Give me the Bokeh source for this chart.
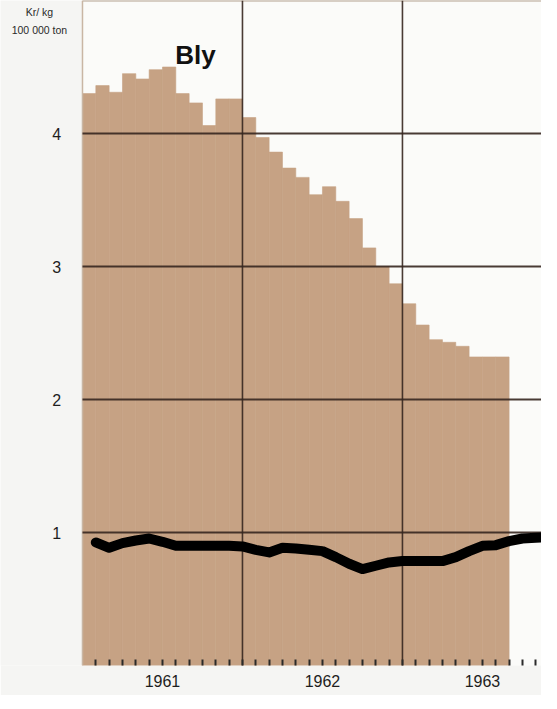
from bokeh.plotting import figure
from bokeh.models import Range1d, FixedTicker
from bokeh.core.properties import value
from bokeh.embed import file_html
from bokeh.resources import INLINE

# ---- data (months counted from Jan 1961 = 0) ----
bar_months = list(range(32))
bar_values = [4.30, 4.36, 4.31, 4.45, 4.41, 4.48, 4.50, 4.30, 4.23, 4.06, 4.26, 4.26,
              4.12, 3.97, 3.86, 3.74, 3.67, 3.54, 3.60, 3.49, 3.36, 3.14, 3.00, 2.87,
              2.72, 2.56, 2.45, 2.43, 2.40, 2.32, 2.32, 2.32]

line_months = list(range(1, 36))
line_values = [0.925, 0.885, 0.92, 0.94, 0.955, 0.93, 0.90, 0.90, 0.90, 0.90, 0.90, 0.895,
               0.87, 0.85, 0.885, 0.88, 0.87, 0.86, 0.815, 0.765, 0.725, 0.75, 0.775, 0.785,
               0.785, 0.785, 0.785, 0.815, 0.86, 0.90, 0.905, 0.935, 0.955, 0.96, 0.965]

year_labels = {6: "1961", 18: "1962", 30: "1963"}
year_bounds = [12, 24]
y_ticks = [1, 2, 3, 4]
y_tick_labels = ["1", "2", "3", "4"]
unit_lines = ["Kr/ kg", "100 000 ton"]
title_text = "Bly"

X0, X1 = -6.15, 34.43   # left gutter (labels) + chart months
Y0, Y1 = 0, 5
TAN = "#c6a284"
GRID = "#35261f"
FONT = value("Liberation Sans")

p = figure(width=541, height=695, output_backend="svg", toolbar_location=None,
           x_range=Range1d(X0, X1), y_range=Range1d(Y0, Y1),
           min_border_left=0, min_border_right=0, min_border_top=0, min_border_bottom=30)
p.background_fill_color = "#f5f5f3"
p.border_fill_color = "#f5f5f3"
p.outline_line_color = None
p.xgrid.visible = False
p.ygrid.visible = False
p.yaxis.visible = False

# chart area background
p.quad(left=[0], right=[X1 + 1], bottom=[Y0], top=[Y1], fill_color="#fbfbf9", line_color=None)

# monthly bars
p.quad(left=bar_months, right=[m + 1 for m in bar_months], bottom=0, top=bar_values,
       fill_color=TAN, line_color=TAN, line_width=0.6)

# frame top & left edges
p.segment(x0=[0], x1=[X1 + 1], y0=[Y1], y1=[Y1], line_color="#b3a190", line_width=2)
p.segment(x0=[0], x1=[0], y0=[Y0], y1=[Y1], line_color="#c9b6a4", line_width=1.5)

# grid lines (on top of bars)
p.segment(x0=[0] * len(y_ticks), x1=[X1 + 1] * len(y_ticks), y0=y_ticks, y1=y_ticks,
          line_color=GRID, line_width=2, line_alpha=0.9)
p.segment(x0=year_bounds, x1=year_bounds, y0=[Y0] * len(year_bounds), y1=[Y1] * len(year_bounds),
          line_color=GRID, line_width=1.6, line_alpha=0.9)

# price line
p.line(line_months, line_values, line_width=10, line_color="black",
       line_join="round", line_cap="round")

# y tick labels and unit text in the left gutter
p.text(x=[-1.6] * len(y_ticks), y=y_ticks, text=y_tick_labels, text_align="right",
       text_baseline="middle", text_font=FONT, text_font_size="16px", text_color="#1e1e1e")
p.text(x=[-3.23, -3.23], y=[4.91, 4.78], text=unit_lines, text_align="center",
       text_baseline="middle", text_font=FONT, text_font_size="10.5px", text_color="#2a2a2a")
p.text(x=[6.95], y=[4.59], text=[title_text], text_align="left", text_baseline="alphabetic",
       text_font=FONT, text_font_size="26px", text_font_style="bold", text_color="#111111")

# x axis: monthly ticks inside, year labels at mid-year
ticks = list(range(1, 36))
p.xaxis.ticker = FixedTicker(ticks=ticks)
p.xaxis.major_label_overrides = {t: year_labels.get(t, "") for t in ticks}
p.xaxis.axis_line_color = None
p.xaxis.major_tick_in = 6
p.xaxis.major_tick_out = 0
p.xaxis.major_tick_line_width = 2
p.xaxis.major_tick_line_color = "#2a2a2a"
p.xaxis.minor_tick_line_color = None
p.xaxis.major_label_standoff = 9
p.xaxis.major_label_text_font = "Liberation Sans"
p.xaxis.major_label_text_font_size = "16px"
p.xaxis.major_label_text_color = "#1e1e1e"

open("out.html", "w").write(file_html(p, INLINE))
